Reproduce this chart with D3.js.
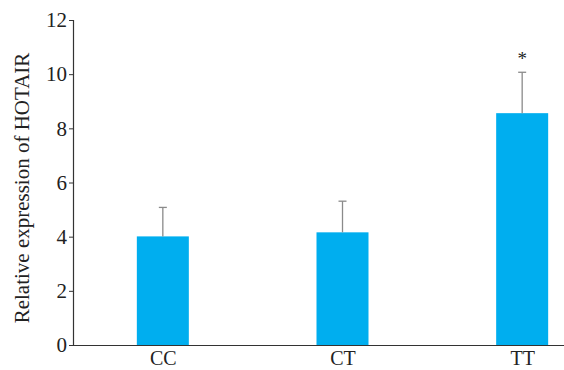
<!DOCTYPE html>
<html>
<head>
<meta charset="utf-8">
<script src="https://cdn.jsdelivr.net/npm/d3@7"></script>
<style>
  html, body { margin: 0; padding: 0; background: #fff; }
  svg text { font-family: "Liberation Serif", "Times New Roman", serif; fill: #222; }
</style>
</head>
<body>
<svg id="chart" width="564" height="370"></svg>
<script>
// Genotype groups and mean relative expression with SD
const genotypes = ["CC", "CT", "TT"];
const meanValues = [4.01, 4.16, 8.56];
const errorValues = [1.07, 1.15, 1.51];
const significance = ["", "", "*"];
const yTicks = [0, 2, 4, 6, 8, 10, 12];

const svg = d3.select("#chart");
const plotLeft = 73, plotBottom = 345, plotTop = 20, plotRight = 612;
const fontSize = 21;

const x = d3.scalePoint().domain(genotypes).range([plotLeft, plotRight]).padding(0.5);
const barWidth = 52;
const y = d3.scaleLinear().domain([0, 12]).range([plotBottom, plotTop]);

// Bars
svg.selectAll("rect.bar")
  .data(genotypes)
  .join("rect")
  .attr("class", "bar")
  .attr("x", d => x(d) - barWidth / 2)
  .attr("width", barWidth)
  .attr("y", (d, i) => y(meanValues[i]))
  .attr("height", (d, i) => y(0) - y(meanValues[i]))
  .attr("fill", "#00AEEF");

// Error bars (upper only)
const err = svg.append("g").attr("stroke", "#8a8a8a").attr("stroke-width", 1.3);
genotypes.forEach((g, i) => {
  const cx = x(g);
  const yt = y(meanValues[i] + errorValues[i]);
  err.append("line").attr("x1", cx).attr("x2", cx).attr("y1", y(meanValues[i])).attr("y2", yt);
  err.append("line").attr("x1", cx - 4).attr("x2", cx + 4).attr("y1", yt).attr("y2", yt);
  if (significance[i]) {
    svg.append("text")
      .attr("x", cx)
      .attr("y", yt - 7)
      .attr("text-anchor", "middle")
      .attr("font-size", 19)
      .text(significance[i]);
  }
});

// Y axis
const yAxis = svg.append("g")
  .attr("transform", `translate(${plotLeft},0)`)
  .call(d3.axisLeft(y).tickValues(yTicks).tickSize(4).tickSizeOuter(4).tickPadding(2));
yAxis.select(".domain").attr("stroke", "#333").attr("stroke-width", 1.2);
yAxis.selectAll(".tick line").attr("stroke", "#333");
yAxis.selectAll(".tick text")
  .attr("font-size", fontSize)
  .attr("fill", "#222");

// X axis
const xAxis = svg.append("g")
  .attr("transform", `translate(0,${plotBottom})`)
  .call(d3.axisBottom(x).tickSize(0).tickPadding(6));
xAxis.select(".domain").attr("stroke", "#333").attr("stroke-width", 1.2);
xAxis.selectAll(".tick text")
  .attr("font-size", 20)
  .attr("fill", "#222");

// Y axis title
svg.append("text")
  .attr("transform", `translate(28.5,188) rotate(-90)`)
  .attr("text-anchor", "middle")
  .attr("font-size", fontSize)
  .text("Relative expression of HOTAIR");
</script>
</body>
</html>
